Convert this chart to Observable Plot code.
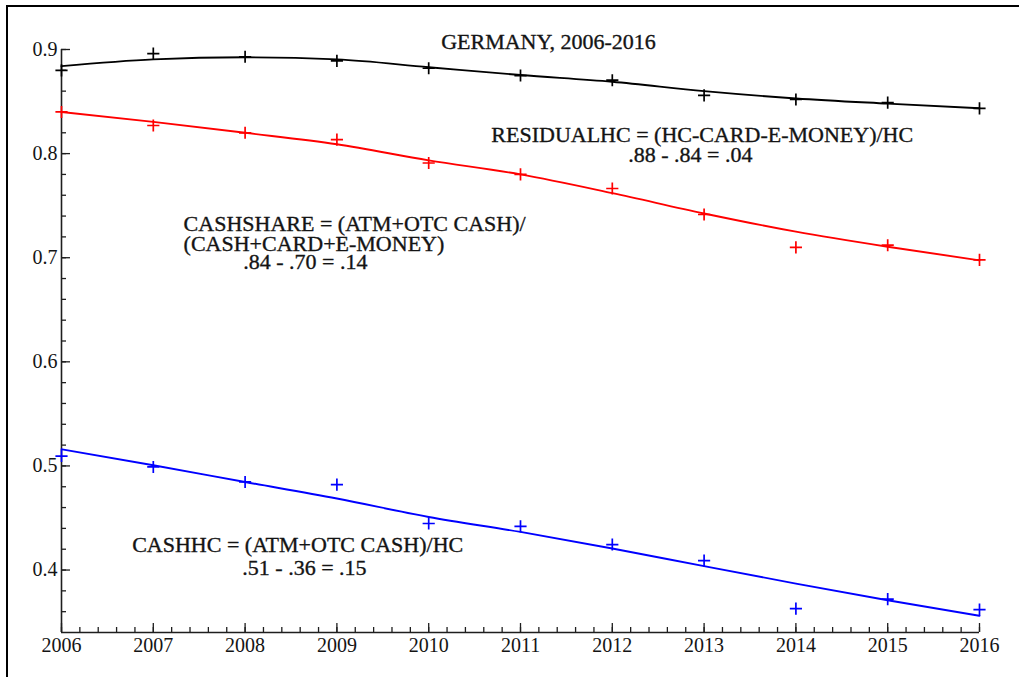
<!DOCTYPE html>
<html>
<head>
<meta charset="utf-8">
<script src="https://cdn.jsdelivr.net/npm/d3@7"></script>
<script src="https://cdn.jsdelivr.net/npm/@observablehq/plot@0.6"></script>
<style>
html, body { margin: 0; padding: 0; background: #fff; overflow: hidden; }
#wrap { position: relative; width: 1019px; height: 677px; overflow: hidden; }
#border { position: absolute; left: 6px; top: 5px; width: 1100px; height: 800px; border-left: 2px solid #000; border-top: 2px solid #000; }
#chart { position: absolute; left: 0; top: 0; }
</style>
</head>
<body>
<div id="wrap"><div id="border"></div><div id="chart"></div></div>
<script>
// ---- data ----
const years = [2006, 2007, 2008, 2009, 2010, 2011, 2012, 2013, 2014, 2015, 2016];
const xTickLabels = ["2006", "2007", "2008", "2009", "2010", "2011", "2012", "2013", "2014", "2015", "2016"];
const yTicks = [0.4, 0.5, 0.6, 0.7, 0.8, 0.9];
const yTickLabels = ["0.4", "0.5", "0.6", "0.7", "0.8", "0.9"];

const residualHC    = [0.880, 0.896, 0.893, 0.889, 0.882, 0.875, 0.8705, 0.856, 0.852, 0.849, 0.8435];
const residualHCFit = [0.884, 0.8905, 0.8925, 0.8905, 0.883, 0.8755, 0.869, 0.860, 0.853, 0.848, 0.8435];

const cashShare    = [0.840, 0.827, 0.820, 0.8135, 0.791, 0.780, 0.7665, 0.7415, 0.710, 0.712, 0.698];
const cashShareFit = [0.840, 0.8305, 0.820, 0.809, 0.7935, 0.780, 0.762, 0.7425, 0.725, 0.7105, 0.6975];

const cashHC    = [0.5095, 0.499, 0.4846, 0.482, 0.4447, 0.442, 0.4245, 0.409, 0.363, 0.372, 0.362];
const cashHCFit = [0.516, 0.5006, 0.4846, 0.4687, 0.451, 0.4366, 0.4207, 0.4037, 0.387, 0.371, 0.356];

const titleText = "GERMANY, 2006-2016";
const residualLabel = ["RESIDUALHC = (HC-CARD-E-MONEY)/HC", ".88 - .84 = .04"];
const cashShareLabel = ["CASHSHARE = (ATM+OTC CASH)/", "(CASH+CARD+E-MONEY)", ".84 - .70 = .14"];
const cashHCLabel = ["CASHHC = (ATM+OTC CASH)/HC", ".51 - .36 = .15"];

// ---- layout ----
const W = 1019, H = 677;
const mL = 61, mR = 40, mT = 49, mB = 45;
const plotW = W - mL - mR, plotH = H - mT - mB;
const xDomain = [2006, 2016], yDomain = [0.34, 0.9];
const axisColor = "#1e1e1e";
const textColor = "#141414";
const font = "'Liberation Serif', 'Times New Roman', serif";

const series = [
  {color: "#000000", pts: residualHC, fit: residualHCFit},
  {color: "#ff0000", pts: cashShare, fit: cashShareFit},
  {color: "#0000ff", pts: cashHC, fit: cashHCFit}
];
const table = (vals) => years.map((yr, i) => ({year: yr, value: vals[i]}));

const minorX = d3.ticks(xDomain[0], xDomain[1], 50);
const minorY = d3.ticks(yDomain[0], yDomain[1], 28).filter(v => v > yDomain[0] + 1e-9);

const centeredNotes = [
  {text: titleText, x: 2011.305, y: 0.9073},
  {text: residualLabel[0], x: 2012.98, y: 0.8182},
  {text: residualLabel[1], x: 2012.85, y: 0.7985}
];
const leftNotes = [
  {text: cashShareLabel[0], x: 2007.33, y: 0.7322},
  {text: cashShareLabel[1], x: 2007.33, y: 0.7130},
  {text: cashShareLabel[2], x: 2007.98, y: 0.6960},
  {text: cashHCLabel[0], x: 2006.77, y: 0.4245},
  {text: cashHCLabel[1], x: 2007.97, y: 0.4024}
];
const noteStyle = {x: "x", y: "y", text: "text", fontSize: 22, fill: textColor, stroke: textColor, strokeWidth: 0.35, lineAnchor: "middle"};

const chart = Plot.plot({
  width: W,
  height: H,
  marginLeft: mL, marginRight: mR, marginTop: mT, marginBottom: mB,
  x: {domain: xDomain},
  y: {domain: yDomain},
  style: {fontFamily: font, fontSize: "20px", background: "transparent", overflow: "visible", color: textColor},
  marks: [
    // minor + major ticks (pointing inward)
    Plot.ruleX(minorX, {stroke: axisColor, strokeWidth: 1.3, insetTop: plotH - 5}),
    Plot.ruleX(years, {stroke: axisColor, strokeWidth: 1.3, insetTop: plotH - 9}),
    Plot.ruleY(minorY, {stroke: axisColor, strokeWidth: 1.3, insetRight: plotW - 5}),
    Plot.ruleY(yTicks, {stroke: axisColor, strokeWidth: 1.3, insetRight: plotW - 9}),
    // axis lines
    Plot.ruleX([xDomain[0]], {stroke: axisColor, strokeWidth: 1.6}),
    Plot.ruleY([yDomain[0]], {stroke: axisColor, strokeWidth: 1.6}),
    // tick labels
    Plot.axisX({ticks: years, tickFormat: d => xTickLabels[years.indexOf(d)], tickSize: 0, tickPadding: 5, fontSize: 20, fill: textColor, stroke: textColor, strokeWidth: 0.3, label: null}),
    Plot.axisY({ticks: yTicks, tickFormat: d => yTickLabels[yTicks.indexOf(d)], tickSize: 0, tickPadding: 4, fontSize: 20, fill: textColor, stroke: textColor, strokeWidth: 0.3, label: null}),
    // series
    ...series.flatMap(s => [
      Plot.line(table(s.fit), {x: "year", y: "value", stroke: s.color, strokeWidth: 1.9, curve: "monotone-x"}),
      Plot.dot(table(s.pts), {x: "year", y: "value", symbol: "plus", stroke: s.color, r: 4, strokeWidth: 1.7})
    ]),
    // annotations
    Plot.text(centeredNotes, {...noteStyle, textAnchor: "middle"}),
    Plot.text(leftNotes, {...noteStyle, textAnchor: "start"})
  ]
});
document.getElementById("chart").appendChild(chart);
</script>
</body>
</html>
